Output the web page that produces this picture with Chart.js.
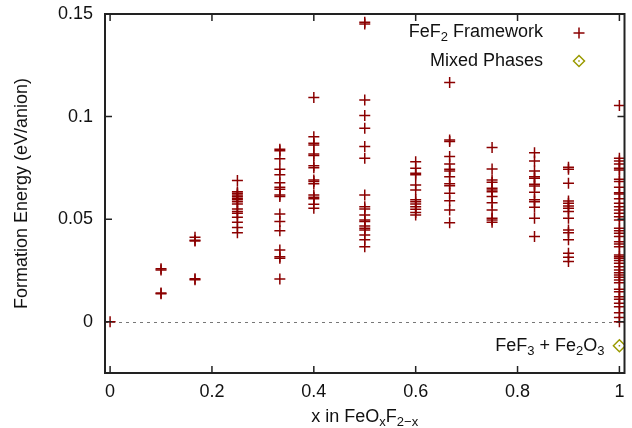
<!DOCTYPE html>
<html>
<head>
<meta charset="utf-8">
<script src="https://cdn.jsdelivr.net/npm/chart.js@4.4.1/dist/chart.umd.min.js"></script>
<style>
    html, body { margin: 0; padding: 0; background: #fff; }
    canvas { display: block; }
</style>
</head>
<body>
<canvas id="formationChart" width="632" height="428"></canvas>
<script>
'use strict';

/* --------------------------------------------------------------------------
   DATA — formation energy (eV/anion) per composition x in FeOxF2-x
   -------------------------------------------------------------------------- */
const compositions = [0, 0.1, 0.1667, 0.25, 0.3333, 0.4, 0.5, 0.6, 0.6667, 0.75, 0.8333, 0.9, 1];

const energyX000 = [0.0];
const energyX100 = [0.0258, 0.0252, 0.0140, 0.0136];
const energyX167 = [0.0412, 0.0397, 0.0393, 0.0209, 0.0204];
const energyX250 = [0.0688, 0.0634, 0.0626, 0.0618, 0.0610, 0.0602, 0.0594, 0.0585, 0.0574, 0.0550, 0.0537, 0.0529, 0.0509, 0.0485, 0.0459, 0.0434];
const energyX333 = [0.0841, 0.0833, 0.0794, 0.0743, 0.0716, 0.0678, 0.0656, 0.0646, 0.0618, 0.0610, 0.0525, 0.0488, 0.0444, 0.0350, 0.0317, 0.0309, 0.0208];
const energyX400 = [0.1093, 0.0902, 0.0870, 0.0862, 0.0818, 0.0810, 0.0760, 0.0751, 0.0691, 0.0683, 0.0672, 0.0618, 0.0607, 0.0599, 0.0573, 0.0553];
const energyX500 = [0.1460, 0.1451, 0.1081, 0.1005, 0.0943, 0.0854, 0.0797, 0.0618, 0.0561, 0.0550, 0.0520, 0.0496, 0.0488, 0.0467, 0.0456, 0.0447, 0.0423, 0.0399, 0.0366];
const energyX600 = [0.0780, 0.0748, 0.0724, 0.0716, 0.0667, 0.0642, 0.0594, 0.0585, 0.0574, 0.0561, 0.0548, 0.0532, 0.0520];
const energyX667 = [0.1166, 0.0886, 0.0878, 0.0805, 0.0769, 0.0743, 0.0735, 0.0707, 0.0672, 0.0663, 0.0626, 0.0590, 0.0545, 0.0483];
const energyX750 = [0.0849, 0.0745, 0.0691, 0.0680, 0.0651, 0.0642, 0.0634, 0.0610, 0.0580, 0.0545, 0.0504, 0.0496, 0.0485];
const energyX833 = [0.0824, 0.0784, 0.0735, 0.0707, 0.0699, 0.0670, 0.0662, 0.0631, 0.0594, 0.0585, 0.0558, 0.0504, 0.0415];
const energyX900 = [0.0753, 0.0743, 0.0675, 0.0589, 0.0578, 0.0564, 0.0553, 0.0537, 0.0504, 0.0447, 0.0434, 0.0399, 0.0334, 0.0314, 0.0293];
const energyX1000 = [0.1054, 0.0797, 0.0784, 0.0769, 0.0748, 0.0740, 0.0695, 0.0683, 0.0655, 0.0629, 0.0623, 0.0600, 0.0578, 0.0561, 0.0545, 0.0529, 0.0512, 0.0496,
    0.0456, 0.0444, 0.0431, 0.0415, 0.0390, 0.0379, 0.0366, 0.0325, 0.0317, 0.0309, 0.0298, 0.0285, 0.0268, 0.0252, 0.0239, 0.0228, 0.0217, 0.0203,
    0.0190, 0.0158, 0.0146, 0.0122, 0.0109, 0.0090, 0.0073, 0.0044, 0.0020, 0.0000];

const energyColumns = [energyX000, energyX100, energyX167, energyX250, energyX333, energyX400, energyX500,
    energyX600, energyX667, energyX750, energyX833, energyX900, energyX1000];

// FeF3 + Fe2O3 reference
const mixedX = [1];
const mixedY = [-0.0117];

const xTicks = [0, 0.2, 0.4, 0.6, 0.8, 1];
const yTicks = [0, 0.05, 0.1, 0.15];

/* --------------------------------------------------------------------------
   STYLE
   -------------------------------------------------------------------------- */
const FONT_FAMILY = '"Liberation Sans", Arial, Helvetica, sans-serif';
const MAIN_FONT = '18px ' + FONT_FAMILY;
const SUB_FONT = '13px ' + FONT_FAMILY;
const TEXT_COLOR = '#111';
const FRAME_COLOR = '#222';
const CROSS_COLOR = '#8b0000';
const DIAMOND_COLOR = '#9a9a00';

Chart.defaults.font.family = FONT_FAMILY;
Chart.defaults.font.size = 18;
Chart.defaults.color = TEXT_COLOR;

// draws text with [text, isSubscript] parts
function drawRich(ctx, parts, x, y, align) {
    let total = 0;
    parts.forEach(p => { ctx.font = p[1] ? SUB_FONT : MAIN_FONT; total += ctx.measureText(p[0]).width; });
    let cx = align === 'right' ? x - total : align === 'center' ? x - total / 2 : x;
    ctx.textAlign = 'left';
    ctx.textBaseline = 'alphabetic';
    ctx.fillStyle = TEXT_COLOR;
    parts.forEach(p => {
        ctx.font = p[1] ? SUB_FONT : MAIN_FONT;
        ctx.fillText(p[0], cx, y + (p[1] ? 4 : 0));
        cx += ctx.measureText(p[0]).width;
    });
}

function drawCross(ctx, x, y, r) {
    ctx.beginPath();
    ctx.moveTo(x - r, y); ctx.lineTo(x + r, y);
    ctx.moveTo(x, y - r); ctx.lineTo(x, y + r);
    ctx.strokeStyle = CROSS_COLOR;
    ctx.lineWidth = 1.5;
    ctx.stroke();
}

function drawDiamond(ctx, x, y, r) {
    ctx.beginPath();
    ctx.moveTo(x, y - r); ctx.lineTo(x + r, y); ctx.lineTo(x, y + r); ctx.lineTo(x - r, y); ctx.closePath();
    ctx.strokeStyle = DIAMOND_COLOR;
    ctx.lineWidth = 1.5;
    ctx.stroke();
    ctx.fillStyle = DIAMOND_COLOR;
    ctx.fillRect(x - 0.75, y - 0.75, 1.5, 1.5);
}

/* --------------------------------------------------------------------------
   GNUPLOT-STYLE FRAME PLUGIN — zero line, border, inward ticks, labels
   -------------------------------------------------------------------------- */
const gnuplotFrame = {
    id: 'gnuplotFrame',
    beforeDatasetsDraw(chart) {
        const { ctx, chartArea: a, scales: { y } } = chart;
        const y0 = Math.round(y.getPixelForValue(0)) + 0.5;
        ctx.save();
        ctx.setLineDash([3, 4]);
        ctx.strokeStyle = '#777';
        ctx.lineWidth = 1;
        ctx.beginPath();
        ctx.moveTo(a.left, y0);
        ctx.lineTo(a.right, y0);
        ctx.stroke();
        ctx.restore();
    },
    afterDatasetsDraw(chart) {
        const { ctx, chartArea: a, scales: { x, y } } = chart;
        ctx.save();

        // centre dots of the diamonds
        const meta = chart.getDatasetMeta(1);
        ctx.fillStyle = DIAMOND_COLOR;
        meta.data.forEach(pt => ctx.fillRect(pt.x - 0.75, pt.y - 0.75, 1.5, 1.5));

        // border box
        ctx.strokeStyle = FRAME_COLOR;
        ctx.lineWidth = 2;
        ctx.strokeRect(a.left, a.top, a.right - a.left, a.bottom - a.top);

        // inward ticks, mirrored
        const tl = 7;
        ctx.lineWidth = 1.5;
        ctx.beginPath();
        xTicks.forEach(v => {
            const px = x.getPixelForValue(v);
            ctx.moveTo(px, a.bottom); ctx.lineTo(px, a.bottom - tl);
            ctx.moveTo(px, a.top); ctx.lineTo(px, a.top + tl);
        });
        yTicks.forEach(v => {
            const py = y.getPixelForValue(v);
            ctx.moveTo(a.left, py); ctx.lineTo(a.left + tl, py);
            ctx.moveTo(a.right, py); ctx.lineTo(a.right - tl, py);
        });
        ctx.stroke();

        // legend (text right-aligned, marker on the right)
        drawRich(ctx, [['FeF', false], ['2', true], [' Framework', false]], 543, 37, 'right');
        drawCross(ctx, 579, 33, 5.5);
        drawRich(ctx, [['Mixed Phases', false]], 543, 66, 'right');
        drawDiamond(ctx, 579, 61, 5.5);

        // label next to the mixed-phase point
        const mx = x.getPixelForValue(mixedX[0]);
        const my = y.getPixelForValue(mixedY[0]);
        drawRich(ctx, [['FeF', false], ['3', true], [' + Fe', false], ['2', true], ['O', false], ['3', true]], mx - 15, my + 5, 'right');

        // axis titles
        drawRich(ctx, [['x in FeO', false], ['x', true], ['F', false], ['2\u2212x', true]], (a.left + a.right) / 2, 422, 'center');
        ctx.translate(27, (a.top + a.bottom) / 2);
        ctx.rotate(-Math.PI / 2);
        drawRich(ctx, [['Formation Energy (eV/anion)', false]], 0, 0, 'center');

        ctx.restore();
    },
};

/* --------------------------------------------------------------------------
   CHART
   -------------------------------------------------------------------------- */
const frameworkPoints = compositions.flatMap((cx, i) => energyColumns[i].map(e => ({ x: cx, y: e })));
const mixedPoints = mixedX.map((mx, i) => ({ x: mx, y: mixedY[i] }));

const ctx = document.getElementById('formationChart').getContext('2d');
new Chart(ctx, {
    type: 'scatter',
    data: {
        datasets: [
            {
                label: 'FeF2 Framework',
                data: frameworkPoints,
                pointStyle: 'cross',
                pointRadius: 5.5,
                borderColor: CROSS_COLOR,
                backgroundColor: CROSS_COLOR,
                borderWidth: 1.5,
            },
            {
                label: 'Mixed Phases',
                data: mixedPoints,
                pointStyle: 'rectRot',
                pointRadius: 6,
                borderColor: DIAMOND_COLOR,
                backgroundColor: 'rgba(0,0,0,0)',
                borderWidth: 1.5,
            },
        ],
    },
    options: {
        responsive: false,
        animation: false,
        events: [],
        layout: { padding: { left: 0, top: 14, right: 6, bottom: 0 } },
        plugins: {
            legend: { display: false },
            tooltip: { enabled: false },
        },
        scales: {
            x: {
                type: 'linear',
                min: -0.01,
                max: 1.01,
                afterBuildTicks: s => { s.ticks = xTicks.map(v => ({ value: v })); },
                afterFit: s => { s.height = 55; s.paddingLeft = 0; s.paddingRight = 0; },
                ticks: { callback: v => String(v), padding: 8, maxRotation: 0, color: TEXT_COLOR },
                grid: { display: false, drawTicks: false },
                border: { display: false },
            },
            y: {
                type: 'linear',
                min: -0.025,
                max: 0.15,
                afterBuildTicks: s => { s.ticks = yTicks.map(v => ({ value: v })); },
                afterFit: s => { s.width = 105; s.paddingTop = 0; s.paddingBottom = 0; },
                ticks: { callback: v => String(v), padding: 12, color: TEXT_COLOR },
                grid: { display: false, drawTicks: false },
                border: { display: false },
            },
        },
    },
    plugins: [gnuplotFrame],
});
</script>
</body>
</html>
